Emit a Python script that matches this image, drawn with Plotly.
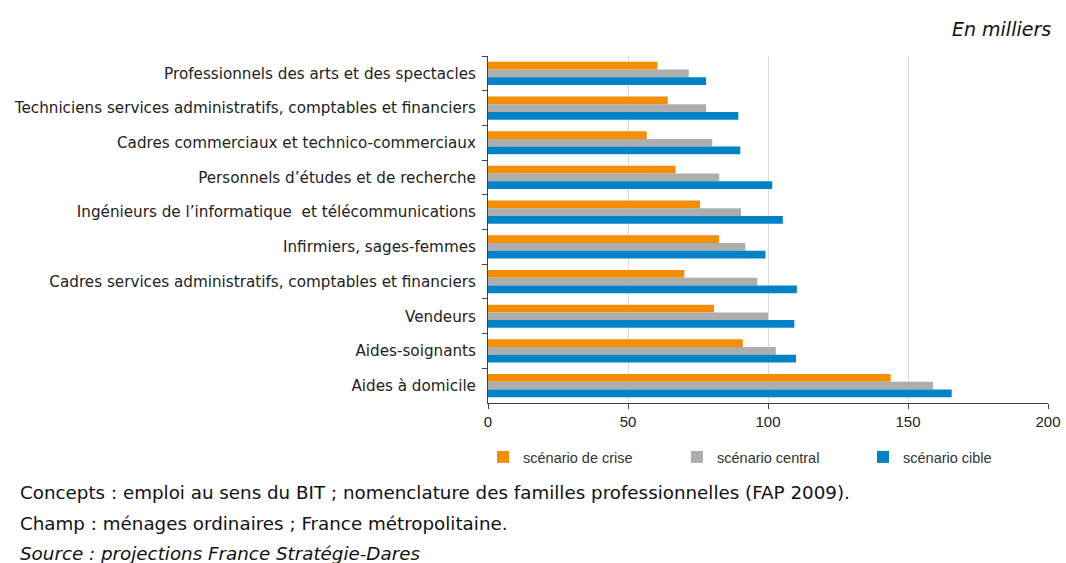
import plotly.graph_objects as go

categories = [
    "Professionnels des arts et des spectacles",
    "Techniciens services administratifs, comptables et financiers",
    "Cadres commerciaux et technico-commerciaux",
    "Personnels d\u2019études et de recherche",
    "Ingénieurs de l\u2019informatique  et télécommunications",
    "Infirmiers, sages-femmes",
    "Cadres services administratifs, comptables et financiers",
    "Vendeurs",
    "Aides-soignants",
    "Aides à domicile",
]
crise = [60.5, 64.2, 56.7, 67.0, 75.7, 82.5, 70.1, 80.7, 91.0, 143.8]
central = [71.7, 77.9, 80.1, 82.6, 90.4, 91.9, 96.2, 100.0, 102.8, 158.9]
cible = [77.9, 89.4, 90.1, 101.5, 105.3, 99.1, 110.3, 109.4, 110.0, 165.6]
series_names = ["scénario de crise", "scénario central", "scénario cible"]
colors = ["#F28E00", "#ADADAD", "#0082C8"]

font = "Liberation Sans, Arial, sans-serif"
wide = "DejaVu Sans, sans-serif"

W, H = 1066, 563
L, R, T, B = 488, 1066 - 1048, 56, 563 - 403
pw, ph = W - L - R, H - T - B


def px(x):
    return (x - L) / pw


def py(y):
    return (H - B - y) / ph


legend_names = ["legend", "legend2", "legend3"]
legend_x = [498, 692, 878]  # page px of legend symbol left

fig = go.Figure()
for name, vals, col, lg in zip(series_names, [crise, central, cible], colors, legend_names):
    fig.add_trace(go.Bar(y=categories, x=vals, name=name, orientation="h", legend=lg,
                         marker=dict(color=col, line=dict(width=0))))

layout_legends = {}
for lg, lx in zip(legend_names, legend_x):
    layout_legends[lg] = dict(orientation="h", xref="container", yref="container",
                              x=(lx - 15) / W, xanchor="left",
                              y=1 - 457 / H, yanchor="middle",
                              font=dict(size=14.5, color="#333333", family=font),
                              itemwidth=30, bgcolor="rgba(0,0,0,0)")

fig.update_layout(
    width=W, height=H,
    margin=dict(l=L, r=R, t=T, b=B, autoexpand=False),
    paper_bgcolor="white", plot_bgcolor="white",
    barmode="group", bargap=0.33, bargroupgap=0,
    font=dict(family=font, size=15, color="#222222"),
    showlegend=True,
    **layout_legends,
)
fig.update_xaxes(range=[0, 200], tickvals=[0, 50, 100, 150, 200], showgrid=True,
                 gridcolor="#D9D9D9", gridwidth=1, showline=True, linecolor="#404040",
                 linewidth=1, ticks="outside", ticklen=5, tickcolor="#404040",
                 tickfont=dict(size=15, color="#222222"), zeroline=False, fixedrange=True,
                 automargin=False)
fig.update_yaxes(autorange="reversed", showline=True, linecolor="#404040", linewidth=1,
                 ticks="outside", ticklen=5, tickcolor="#404040", tickson="boundaries",
                 tickfont=dict(size=15.2, color="#222222", family=wide), ticklabelstandoff=8,
                 fixedrange=True, automargin=False)

notes = [
    ("Concepts : emploi au sens du BIT ; nomenclature des familles professionnelles (FAP 2009).", 492),
    ("Champ : ménages ordinaires ; France métropolitaine.", 523),
    ("<i>Source : projections France Stratégie-Dares</i>", 553),
]
for txt, y in notes:
    fig.add_annotation(text=txt, xref="paper", yref="paper", x=px(18), y=py(y),
                       xanchor="left", yanchor="middle", showarrow=False,
                       font=dict(size=18.3, color="#111111", family=wide))
fig.add_annotation(text="<i>En milliers</i>", xref="paper", yref="paper", x=px(1053), y=py(29),
                   xanchor="right", yanchor="middle", showarrow=False,
                   font=dict(size=19, color="#111111", family=wide))

fig.write_html("out.html", config={"displayModeBar": False},
               post_script="document.body.style.margin='0';document.body.style.overflow='hidden';")
